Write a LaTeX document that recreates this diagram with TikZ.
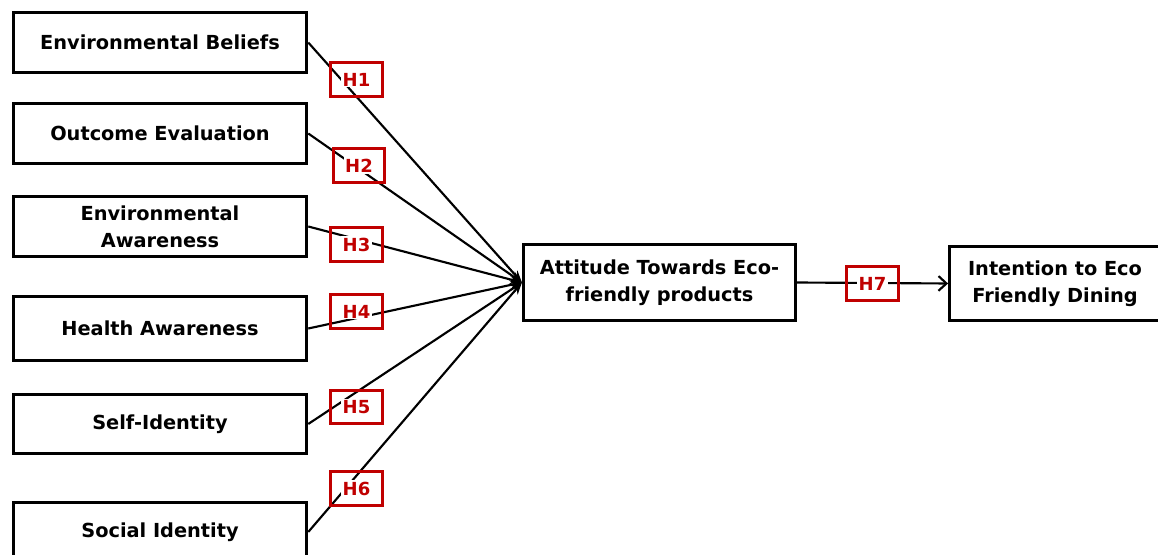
\documentclass[tikz,border=0pt]{standalone}
\usepackage{fontspec}
\setmainfont{DejaVu Sans}
\usetikzlibrary{arrows.meta}
\definecolor{hred}{RGB}{192,0,0}
\setlength{\fboxsep}{1pt}

\begin{document}
\begin{tikzpicture}
[x=0.75pt, y=-0.75pt,
 box/.style={draw, line width=2.4pt, align=center, inner sep=0pt,
   font=\bfseries\fontsize{14.5}{20.5}\selectfont},
 hyp/.style={draw=hred, line width=2.2pt, text=hred, inner sep=0pt,
   minimum width=38.5pt, minimum height=25pt,
   font=\bfseries\fontsize{13.5}{15}\selectfont},
 link/.style={line width=1.6pt, -{Stealth[length=9pt,width=7pt]}}]
\useasboundingbox (0,0) rectangle (1158,555);
% left side
\node[box, minimum width=220pt, minimum height=44.5pt] (eb) at (160,42.5) {Environmental Beliefs};
\node[box, minimum width=220pt, minimum height=44.5pt] (oe) at (160,133.5) {Outcome Evaluation};
\node[box, minimum width=220pt, minimum height=44.5pt] (ea) at (160,226.5) {Environmental\\Awareness};
\node[box, minimum width=220pt, minimum height=48.5pt] (ha) at (160,328.5) {Health Awareness};
\node[box, minimum width=220pt, minimum height=44.5pt] (si) at (160,424) {Self-Identity};
\node[box, minimum width=220pt, minimum height=44.5pt] (so) at (160,532) {Social Identity};
% middle and right
\node[box, minimum width=204pt, minimum height=57.5pt] (att) at (659.5,282.5) {Attitude Towards Eco-\\friendly products};
\node[box, minimum width=158pt, minimum height=56pt] (int) at (1055,283.5) {Intention to Eco\\Friendly Dining};
% paths
\draw[link] (eb.east) -- (att.west);
\draw[link] (oe.east) -- (att.west);
\draw[link] (ea.east) -- (att.west);
\draw[link] (ha.east) -- (att.west);
\draw[link] (si.east) -- (att.west);
\draw[link] (so.east) -- (att.west);
\draw[line width=1.6pt, -{Straight Barb[length=6pt,width=11pt]}] (att.east) -- (int.west);
% hypotheses
\node[hyp] (h1) at (356.5,79.5) {\colorbox{white}{H1}};
\node[hyp] (h2) at (359,165.5) {\colorbox{white}{H2}};
\node[hyp] (h3) at (356.5,244.5) {\colorbox{white}{H3}};
\node[hyp] (h4) at (356.5,311.5) {\colorbox{white}{H4}};
\node[hyp] (h5) at (356.5,407) {\colorbox{white}{H5}};
\node[hyp] (h6) at (356.5,488.5) {\colorbox{white}{H6}};
\node[hyp] (h7) at (872.5,283.5) {\colorbox{white}{H7}};
\end{tikzpicture}
\end{document}
